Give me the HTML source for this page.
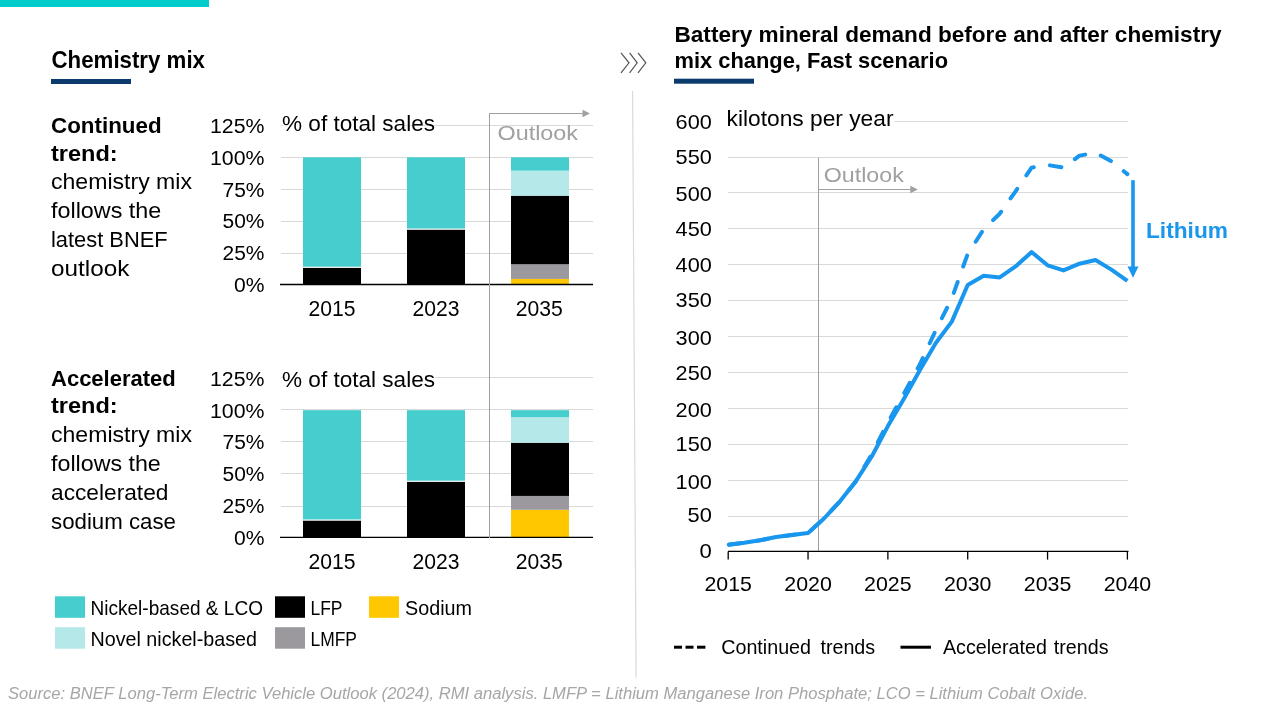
<!DOCTYPE html>
<html><head><meta charset="utf-8">
<style>
html,body{margin:0;padding:0;background:#fff;}
body{width:1280px;height:720px;overflow:hidden;position:relative;}
svg{position:absolute;left:0;top:0;display:block;will-change:transform;}
text{font-family:"Liberation Sans",sans-serif;}
</style></head><body>
<svg width="1280" height="720" viewBox="0 0 1280 720">
<rect x="0" y="0" width="209" height="7" fill="#00CDCB"/>
<rect x="51" y="79" width="80" height="5" fill="#0B3B6C"/>
<line x1="281" y1="125.5" x2="593" y2="125.5" stroke="#D9D9D9" stroke-width="1"/>
<line x1="281" y1="157.5" x2="593" y2="157.5" stroke="#D9D9D9" stroke-width="1"/>
<line x1="281" y1="189.5" x2="593" y2="189.5" stroke="#D9D9D9" stroke-width="1"/>
<line x1="281" y1="221.5" x2="593" y2="221.5" stroke="#D9D9D9" stroke-width="1"/>
<line x1="281" y1="253.5" x2="593" y2="253.5" stroke="#D9D9D9" stroke-width="1"/>
<rect x="303" y="267.71" width="58" height="16.79" fill="#000"/>
<rect x="303" y="266.69" width="58" height="1.02" fill="#fff"/>
<rect x="303" y="157.30" width="58" height="109.39" fill="#46CDCD"/>
<rect x="407" y="229.55" width="58" height="54.95" fill="#000"/>
<rect x="407" y="228.53" width="58" height="1.02" fill="#fff"/>
<rect x="407" y="157.30" width="58" height="71.23" fill="#46CDCD"/>
<rect x="511" y="278.90" width="58" height="5.60" fill="#FFC700"/>
<rect x="511" y="264.28" width="58" height="14.63" fill="#9B999E"/>
<rect x="511" y="195.71" width="58" height="68.56" fill="#000"/>
<rect x="511" y="170.66" width="58" height="25.06" fill="#B5E8E8"/>
<rect x="511" y="157.30" width="58" height="13.36" fill="#46CDCD"/>
<line x1="280" y1="284.5" x2="593" y2="284.5" stroke="#000" stroke-width="1.4"/>
<line x1="281" y1="377.5" x2="593" y2="377.5" stroke="#D9D9D9" stroke-width="1"/>
<line x1="281" y1="409.5" x2="593" y2="409.5" stroke="#D9D9D9" stroke-width="1"/>
<line x1="281" y1="441.5" x2="593" y2="441.5" stroke="#D9D9D9" stroke-width="1"/>
<line x1="281" y1="473.5" x2="593" y2="473.5" stroke="#D9D9D9" stroke-width="1"/>
<line x1="281" y1="506.5" x2="593" y2="506.5" stroke="#D9D9D9" stroke-width="1"/>
<rect x="303" y="520.48" width="58" height="16.92" fill="#000"/>
<rect x="303" y="519.46" width="58" height="1.02" fill="#fff"/>
<rect x="303" y="410.20" width="58" height="109.26" fill="#46CDCD"/>
<rect x="407" y="481.69" width="58" height="55.71" fill="#000"/>
<rect x="407" y="480.67" width="58" height="1.02" fill="#fff"/>
<rect x="407" y="410.20" width="58" height="70.47" fill="#46CDCD"/>
<rect x="511" y="509.80" width="58" height="27.60" fill="#FFC700"/>
<rect x="511" y="495.93" width="58" height="13.86" fill="#9B999E"/>
<rect x="511" y="442.76" width="58" height="53.17" fill="#000"/>
<rect x="511" y="417.20" width="58" height="25.57" fill="#B5E8E8"/>
<rect x="511" y="410.20" width="58" height="7.00" fill="#46CDCD"/>
<line x1="280" y1="537.4" x2="593" y2="537.4" stroke="#000" stroke-width="1.4"/>
<rect x="283" y="112" width="121" height="24" fill="#fff"/>
<rect x="283" y="364" width="152" height="24" fill="#fff"/>
<line x1="489.5" y1="113.2" x2="489.5" y2="538" stroke="#A0A0A0" stroke-width="1"/>
<line x1="489.5" y1="113.5" x2="584" y2="113.5" stroke="#A0A0A0" stroke-width="1.1"/>
<path d="M582.5,109.8 L590,113.5 L582.5,117.2 Z" fill="#A0A0A0"/>
<rect x="55" y="596.3" width="30" height="21.5" fill="#46CDCD"/>
<rect x="275" y="596.3" width="30" height="21.5" fill="#000"/>
<rect x="369" y="596.3" width="30" height="21.5" fill="#FFC700"/>
<rect x="55" y="627.2" width="30" height="21.5" fill="#B5E8E8"/>
<rect x="275" y="627.2" width="30" height="21.5" fill="#9B999E"/>
<line x1="632.6" y1="91" x2="636.1" y2="677.5" stroke="#DADADA" stroke-width="1.2"/>
<g fill="none" stroke="#555" stroke-width="1.2"><polyline points="621,52.8 629,62.8 621,72.8"/><polyline points="629.6,52.8 637.2,62.8 629.6,72.8"/><polyline points="638,52.8 645.8,62.8 638,72.8"/></g>
<rect x="674" y="78.7" width="80" height="5" fill="#0B3B6C"/>
<line x1="728" y1="121.5" x2="1128" y2="121.5" stroke="#D9D9D9" stroke-width="1"/>
<line x1="728" y1="157.5" x2="1128" y2="157.5" stroke="#D9D9D9" stroke-width="1"/>
<line x1="728" y1="192.5" x2="1128" y2="192.5" stroke="#D9D9D9" stroke-width="1"/>
<line x1="728" y1="228.5" x2="1128" y2="228.5" stroke="#D9D9D9" stroke-width="1"/>
<line x1="728" y1="264.5" x2="1128" y2="264.5" stroke="#D9D9D9" stroke-width="1"/>
<line x1="728" y1="300.5" x2="1128" y2="300.5" stroke="#D9D9D9" stroke-width="1"/>
<line x1="728" y1="336.5" x2="1128" y2="336.5" stroke="#D9D9D9" stroke-width="1"/>
<line x1="728" y1="372.5" x2="1128" y2="372.5" stroke="#D9D9D9" stroke-width="1"/>
<line x1="728" y1="408.5" x2="1128" y2="408.5" stroke="#D9D9D9" stroke-width="1"/>
<line x1="728" y1="444.5" x2="1128" y2="444.5" stroke="#D9D9D9" stroke-width="1"/>
<line x1="728" y1="480.5" x2="1128" y2="480.5" stroke="#D9D9D9" stroke-width="1"/>
<line x1="728" y1="516.5" x2="1128" y2="516.5" stroke="#D9D9D9" stroke-width="1"/>
<rect x="723" y="108" width="171.5" height="26" fill="#fff"/>
<line x1="818.5" y1="157.6" x2="818.5" y2="551.5" stroke="#A0A0A0" stroke-width="1"/>
<line x1="818.5" y1="189.5" x2="912" y2="189.5" stroke="#A0A0A0" stroke-width="1.1"/>
<path d="M910.3,185.8 L917.8,189.5 L910.3,193.2 Z" fill="#A0A0A0"/>
<line x1="728" y1="551.4" x2="1128.5" y2="551.4" stroke="#000" stroke-width="1.3"/>
<line x1="728.2" y1="551.4" x2="728.2" y2="559.6" stroke="#000" stroke-width="1.3"/>
<line x1="808.0400000000001" y1="551.4" x2="808.0400000000001" y2="559.6" stroke="#000" stroke-width="1.3"/>
<line x1="887.8800000000001" y1="551.4" x2="887.8800000000001" y2="559.6" stroke="#000" stroke-width="1.3"/>
<line x1="967.72" y1="551.4" x2="967.72" y2="559.6" stroke="#000" stroke-width="1.3"/>
<line x1="1047.56" y1="551.4" x2="1047.56" y2="559.6" stroke="#000" stroke-width="1.3"/>
<line x1="1127.4" y1="551.4" x2="1127.4" y2="559.6" stroke="#000" stroke-width="1.3"/>
<path d="M728.2,544.8 L744.2,542.8 L760.1,540.3 L776.1,537.0 L792.1,535.0 L808.0,533.1 L824.0,518.5 L840.0,501.3 L855.9,481.2 L871.9,454.0 L887.9,422.5 L903.8,393.9 L919.8,364.5 L935.8,330.2 L951.8,298.4 L967.7,254.0 L983.7,229.2 L999.7,213.7 L1015.6,191.3 L1031.6,167.6 L1047.6,165.0 L1063.5,167.6 L1079.5,155.6 L1095.5,152.8 L1111.4,161.3 L1127.4,174.1" fill="none" stroke="#1996EE" stroke-width="4" stroke-dasharray="11.6 16.35" stroke-dashoffset="-0.54" stroke-linecap="round" stroke-linejoin="round"/>
<path d="M728.2,544.8 L744.2,542.8 L760.1,540.3 L776.1,537.0 L792.1,535.0 L808.0,533.1 L824.0,518.5 L840.0,501.3 L855.9,481.2 L871.9,456.2 L887.9,426.1 L903.8,398.9 L919.8,370.3 L935.8,343.0 L951.8,321.6 L967.7,285.0 L983.7,275.7 L999.7,277.4 L1015.6,266.4 L1031.6,252.1 L1047.6,265.3 L1063.5,270.4 L1079.5,263.7 L1095.5,260.0 L1111.4,269.6 L1127.4,280.9" fill="none" stroke="#1996EE" stroke-width="4" stroke-linejoin="round"/>
<line x1="1133" y1="180.2" x2="1133" y2="268" stroke="#1996EE" stroke-width="3.6"/>
<path d="M1127.5,266.5 L1138.5,266.5 L1133,277.7 Z" fill="#1996EE"/>
<g stroke="#000" stroke-width="3"><line x1="674" y1="647.2" x2="682" y2="647.2"/><line x1="685.5" y1="647.2" x2="693.5" y2="647.2"/><line x1="697" y1="647.2" x2="705.4" y2="647.2"/><line x1="900.5" y1="647.2" x2="931" y2="647.2"/></g>
<text x="51.5" y="67.9" font-size="23.3" font-weight="bold" textLength="153.5" lengthAdjust="spacingAndGlyphs">Chemistry mix</text>
<text x="51" y="132.5" font-size="22.2" font-weight="bold" textLength="110.6" lengthAdjust="spacingAndGlyphs">Continued</text>
<text x="51" y="160.5" font-size="22.2" font-weight="bold" textLength="66.7" lengthAdjust="spacingAndGlyphs">trend:</text>
<text x="51" y="189.4" font-size="22.5" textLength="141" lengthAdjust="spacingAndGlyphs">chemistry mix</text>
<text x="51" y="218" font-size="22.5" textLength="110.3" lengthAdjust="spacingAndGlyphs">follows the</text>
<text x="51" y="247.2" font-size="22.5" textLength="116.7" lengthAdjust="spacingAndGlyphs">latest BNEF</text>
<text x="51" y="276.4" font-size="22.5" textLength="78.3" lengthAdjust="spacingAndGlyphs">outlook</text>
<text x="51" y="385.8" font-size="22.2" font-weight="bold" textLength="124.8" lengthAdjust="spacingAndGlyphs">Accelerated</text>
<text x="51" y="413.3" font-size="22.2" font-weight="bold" textLength="66.7" lengthAdjust="spacingAndGlyphs">trend:</text>
<text x="51" y="442.4" font-size="22.5" textLength="141" lengthAdjust="spacingAndGlyphs">chemistry mix</text>
<text x="51" y="471.4" font-size="22.5" textLength="109.8" lengthAdjust="spacingAndGlyphs">follows the</text>
<text x="51" y="500.4" font-size="22.5" textLength="117.4" lengthAdjust="spacingAndGlyphs">accelerated</text>
<text x="51" y="528.5" font-size="22.5" textLength="125" lengthAdjust="spacingAndGlyphs">sodium case</text>
<text x="264.5" y="291.9" font-size="20.3" text-anchor="end" textLength="30.5" lengthAdjust="spacingAndGlyphs">0%</text>
<text x="264.5" y="260.1" font-size="20.3" text-anchor="end" textLength="42" lengthAdjust="spacingAndGlyphs">25%</text>
<text x="264.5" y="228.3" font-size="20.3" text-anchor="end" textLength="42" lengthAdjust="spacingAndGlyphs">50%</text>
<text x="264.5" y="196.5" font-size="20.3" text-anchor="end" textLength="42" lengthAdjust="spacingAndGlyphs">75%</text>
<text x="264.5" y="164.7" font-size="20.3" text-anchor="end" textLength="54.5" lengthAdjust="spacingAndGlyphs">100%</text>
<text x="264.5" y="132.9" font-size="20.3" text-anchor="end" textLength="54.5" lengthAdjust="spacingAndGlyphs">125%</text>
<text x="331.9" y="316" font-size="21.4" text-anchor="middle" textLength="47" lengthAdjust="spacingAndGlyphs">2015</text>
<text x="436" y="316" font-size="21.4" text-anchor="middle" textLength="47" lengthAdjust="spacingAndGlyphs">2023</text>
<text x="539.2" y="316" font-size="21.4" text-anchor="middle" textLength="47" lengthAdjust="spacingAndGlyphs">2035</text>
<text x="264.5" y="544.8" font-size="20.3" text-anchor="end" textLength="30.5" lengthAdjust="spacingAndGlyphs">0%</text>
<text x="264.5" y="513.0" font-size="20.3" text-anchor="end" textLength="42" lengthAdjust="spacingAndGlyphs">25%</text>
<text x="264.5" y="481.2" font-size="20.3" text-anchor="end" textLength="42" lengthAdjust="spacingAndGlyphs">50%</text>
<text x="264.5" y="449.4" font-size="20.3" text-anchor="end" textLength="42" lengthAdjust="spacingAndGlyphs">75%</text>
<text x="264.5" y="417.6" font-size="20.3" text-anchor="end" textLength="54.5" lengthAdjust="spacingAndGlyphs">100%</text>
<text x="264.5" y="385.8" font-size="20.3" text-anchor="end" textLength="54.5" lengthAdjust="spacingAndGlyphs">125%</text>
<text x="331.9" y="568.5" font-size="21.4" text-anchor="middle" textLength="47" lengthAdjust="spacingAndGlyphs">2015</text>
<text x="436" y="568.5" font-size="21.4" text-anchor="middle" textLength="47" lengthAdjust="spacingAndGlyphs">2023</text>
<text x="539.2" y="568.5" font-size="21.4" text-anchor="middle" textLength="47" lengthAdjust="spacingAndGlyphs">2035</text>
<text x="282" y="131" font-size="22.3" textLength="153" lengthAdjust="spacingAndGlyphs">% of total sales</text>
<text x="282" y="387" font-size="22.3" textLength="153" lengthAdjust="spacingAndGlyphs">% of total sales</text>
<text x="497.5" y="139.6" font-size="21" fill="#A0A0A0" textLength="80.5" lengthAdjust="spacingAndGlyphs">Outlook</text>
<text x="90.5" y="614.9" font-size="20.3" textLength="172.5" lengthAdjust="spacingAndGlyphs">Nickel-based &amp; LCO</text>
<text x="310.5" y="614.9" font-size="20.3" textLength="32" lengthAdjust="spacingAndGlyphs">LFP</text>
<text x="405" y="614.9" font-size="20.3" textLength="67" lengthAdjust="spacingAndGlyphs">Sodium</text>
<text x="90.5" y="645.5" font-size="20.3" textLength="166.5" lengthAdjust="spacingAndGlyphs">Novel nickel-based</text>
<text x="310.5" y="645.5" font-size="20.3" textLength="46.5" lengthAdjust="spacingAndGlyphs">LMFP</text>
<text x="674.5" y="41.9" font-size="22.7" font-weight="bold" textLength="547" lengthAdjust="spacingAndGlyphs">Battery mineral demand before and after chemistry</text>
<text x="674.5" y="67.9" font-size="22.7" font-weight="bold" textLength="273.5" lengthAdjust="spacingAndGlyphs">mix change, Fast scenario</text>
<text x="711.8" y="558" font-size="20.6" text-anchor="end" textLength="12.3" lengthAdjust="spacingAndGlyphs">0</text>
<text x="711.8" y="522.4" font-size="20.6" text-anchor="end" textLength="24.3" lengthAdjust="spacingAndGlyphs">50</text>
<text x="711.8" y="488.5" font-size="20.6" text-anchor="end" textLength="36.2" lengthAdjust="spacingAndGlyphs">100</text>
<text x="711.8" y="451.3" font-size="20.6" text-anchor="end" textLength="36.2" lengthAdjust="spacingAndGlyphs">150</text>
<text x="711.8" y="416.5" font-size="20.6" text-anchor="end" textLength="36.2" lengthAdjust="spacingAndGlyphs">200</text>
<text x="711.8" y="379.6" font-size="20.6" text-anchor="end" textLength="36.2" lengthAdjust="spacingAndGlyphs">250</text>
<text x="711.8" y="344.6" font-size="20.6" text-anchor="end" textLength="36.2" lengthAdjust="spacingAndGlyphs">300</text>
<text x="711.8" y="307.4" font-size="20.6" text-anchor="end" textLength="36.2" lengthAdjust="spacingAndGlyphs">350</text>
<text x="711.8" y="272.3" font-size="20.6" text-anchor="end" textLength="36.2" lengthAdjust="spacingAndGlyphs">400</text>
<text x="711.8" y="236.4" font-size="20.6" text-anchor="end" textLength="36.2" lengthAdjust="spacingAndGlyphs">450</text>
<text x="711.8" y="200.7" font-size="20.6" text-anchor="end" textLength="36.2" lengthAdjust="spacingAndGlyphs">500</text>
<text x="711.8" y="163.8" font-size="20.6" text-anchor="end" textLength="36.2" lengthAdjust="spacingAndGlyphs">550</text>
<text x="711.8" y="128.6" font-size="20.6" text-anchor="end" textLength="36.2" lengthAdjust="spacingAndGlyphs">600</text>
<text x="726.5" y="126.3" font-size="22.3" textLength="167" lengthAdjust="spacingAndGlyphs">kilotons per year</text>
<text x="823.8" y="181.7" font-size="21" fill="#A0A0A0" textLength="80" lengthAdjust="spacingAndGlyphs">Outlook</text>
<text x="728.2" y="590.8" font-size="21" text-anchor="middle" textLength="47.5" lengthAdjust="spacingAndGlyphs">2015</text>
<text x="808.0400000000001" y="590.8" font-size="21" text-anchor="middle" textLength="47.5" lengthAdjust="spacingAndGlyphs">2020</text>
<text x="887.8800000000001" y="590.8" font-size="21" text-anchor="middle" textLength="47.5" lengthAdjust="spacingAndGlyphs">2025</text>
<text x="967.72" y="590.8" font-size="21" text-anchor="middle" textLength="47.5" lengthAdjust="spacingAndGlyphs">2030</text>
<text x="1047.56" y="590.8" font-size="21" text-anchor="middle" textLength="47.5" lengthAdjust="spacingAndGlyphs">2035</text>
<text x="1127.4" y="590.8" font-size="21" text-anchor="middle" textLength="47.5" lengthAdjust="spacingAndGlyphs">2040</text>
<text x="1146" y="237.8" font-size="22.2" font-weight="bold" fill="#1996EE" textLength="82" lengthAdjust="spacingAndGlyphs">Lithium</text>
<text x="721.2" y="653.8" font-size="20.3" textLength="154" lengthAdjust="spacingAndGlyphs" word-spacing="4">Continued trends</text>
<text x="943" y="653.8" font-size="20.3" textLength="165.5" lengthAdjust="spacingAndGlyphs" word-spacing="1.5">Accelerated trends</text>
<text x="8" y="698.7" font-size="17.4" font-style="italic" fill="#A6A6A6" textLength="1080" lengthAdjust="spacingAndGlyphs">Source: BNEF Long-Term Electric Vehicle Outlook (2024), RMI analysis. LMFP = Lithium Manganese Iron Phosphate; LCO = Lithium Cobalt Oxide.</text>
</svg>
</body></html>
